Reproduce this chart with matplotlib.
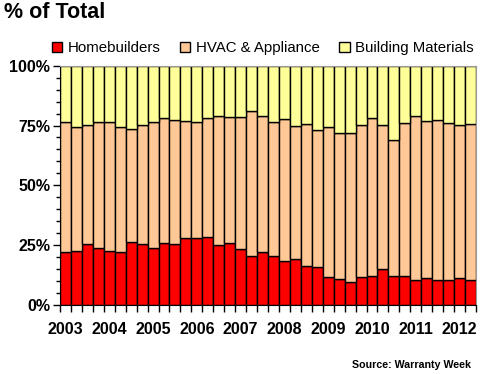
import matplotlib.pyplot as plt
import numpy as np

plt.rcParams['font.family'] = ['Liberation Sans', 'DejaVu Sans']

# quarterly shares, 2003 Q1 .. 2012 Q2 (percent)
years = ['2003', '2004', '2005', '2006', '2007', '2008', '2009', '2010', '2011', '2012']
homebuilders = [22.0, 22.7, 25.3, 23.8, 22.4, 22.0, 26.2, 25.3, 23.8, 25.8,
                25.5, 28.0, 28.0, 28.3, 24.9, 26.0, 23.5, 20.5, 22.0, 20.5,
                18.2, 19.1, 16.4, 15.7, 11.6, 10.7, 9.6, 11.6, 12.1, 14.9,
                12.0, 12.0, 10.3, 11.1, 10.3, 10.6, 11.1, 10.3]
# cumulative top of the HVAC segment
hvac_top = [76.6, 74.4, 75.1, 76.5, 76.5, 74.4, 73.5, 75.1, 76.5, 78.1,
            77.2, 76.9, 76.5, 78.1, 78.8, 78.6, 78.6, 80.9, 78.8, 76.5,
            77.6, 74.7, 75.8, 73.0, 74.2, 72.0, 72.0, 75.1, 78.0, 75.3,
            68.9, 76.0, 79.1, 76.7, 77.2, 76.2, 75.1, 75.5]

hb = np.array(homebuilders)
hvac = np.array(hvac_top) - hb
bm = 100 - np.array(hvac_top)
x = np.arange(len(hb))

fig = plt.figure(figsize=(4.8, 3.74), dpi=100)
ax = fig.add_axes([0.125, 0.1845, 0.8667, 0.6398])

kw = dict(width=1.0, edgecolor='black', linewidth=1.0)
ax.bar(x, hb, color='#FF0000', label='Homebuilders', **kw)
ax.bar(x, hvac, bottom=hb, color='#FFC896', label='HVAC & Appliance', **kw)
ax.bar(x, bm, bottom=hb + hvac, color='#FFFF99', label='Building Materials', **kw)

ax.set_xlim(-0.5, len(hb) - 0.5)
ax.set_ylim(0, 100)

ax.set_yticks([0, 25, 50, 75, 100])
ax.set_yticklabels(['0%', '25%', '50%', '75%', '100%'], fontsize=11.5, fontweight='bold')
ax.set_yticks(np.arange(0, 101, 5), minor=True)
ax.tick_params(axis='y', which='major', length=5, width=1, pad=2)
ax.tick_params(axis='y', which='minor', length=3, width=1)

ax.set_xticks(np.arange(0, len(hb), 4))
ax.set_xticklabels(years, fontsize=11.5, fontweight='bold')
ax.set_xticks(np.arange(-0.5, len(hb), 1), minor=True)
ax.tick_params(axis='x', which='major', length=0, pad=12)
ax.tick_params(axis='x', which='minor', length=5, width=1)

for s in ['top', 'right']:
    ax.spines[s].set_color('#999999')

handles, labels = ax.get_legend_handles_labels()
leg = fig.legend(handles, labels, loc='center left', bbox_to_anchor=(0.108, 1 - 48 / 374),
                 ncol=3, frameon=False, fontsize=10.8, handlelength=0.7, handleheight=0.7,
                 handletextpad=0.35, columnspacing=1.3, borderaxespad=0, borderpad=0)

fig.text(0.008, 1 - 12 / 374, '% of Total', fontsize=15.5, fontweight='bold', va='center')
fig.text(471 / 480, 1 - 365 / 374, 'Source: Warranty Week', fontsize=7.7,
         fontweight='bold', ha='right', va='center')

fig.savefig('out.png', dpi=100)
